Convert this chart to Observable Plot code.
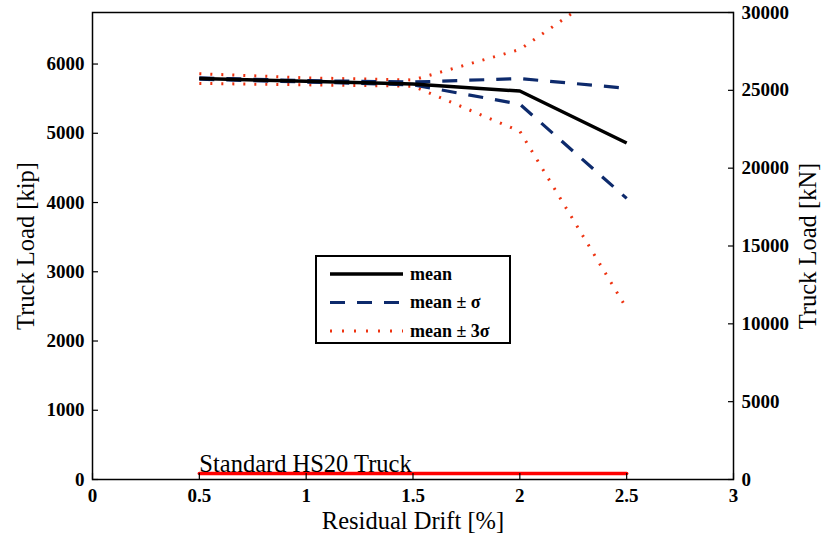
<!DOCTYPE html>
<html>
<head>
<meta charset="utf-8">
<script src="https://cdn.jsdelivr.net/npm/d3@7"></script>
<script src="https://cdn.jsdelivr.net/npm/@observablehq/plot@0.6"></script>
<style>
  html, body { margin: 0; padding: 0; background: #fff; }
  #wrap { position: relative; width: 821px; height: 540px; }
  #legend { position: absolute; left: 315px; top: 255px; }
</style>
</head>
<body>
<div id="wrap"></div>
<script>
// ---- data ----
const drift = [0.5, 1, 1.5, 2, 2.5];                 // Residual Drift [%]
const meanLoad       = [5790, 5750, 5710, 5610, 4860]; // kip
const plusSigmaLoad  = [5800, 5760, 5740, 5790, 5650];
const minusSigmaLoad = [5780, 5740, 5700, 5420, 4060];
const plus3SigmaLoad = [5860, 5800, 5770, 6210, 7280];
const minus3SigmaLoad= [5720, 5700, 5680, 5030, 2470];
const hs20Drift = [0.5, 2.5];
const hs20Load = 85;                                 // kip
const hs20Label = "Standard HS20 Truck";
const xTicks = [0, 0.5, 1, 1.5, 2, 2.5, 3];
const kipTicks = [0, 1000, 2000, 3000, 4000, 5000, 6000];
const kNTicks = [0, 5000, 10000, 15000, 20000, 25000, 30000];
const KIP_TO_KN = 4.4482216;
const legendLabels = ["mean", "mean \u00b1 \u03c3", "mean \u00b1 3\u03c3"];

// ---- styles ----
const FONT = "'Liberation Serif', 'Times New Roman', serif";
const styles = {
  mean:   {stroke: "#000000", strokeWidth: 3.5, dash: null},
  sigma:  {stroke: "#0d2a6c", strokeWidth: 3.2, dash: "15,12"},
  sigma3: {stroke: "#ee3311", strokeWidth: 3, dash: "2,9"}
};

const series = [
  {key: "sigma3", values: plus3SigmaLoad},
  {key: "sigma3", values: minus3SigmaLoad},
  {key: "sigma",  values: plusSigmaLoad},
  {key: "sigma",  values: minusSigmaLoad},
  {key: "mean",   values: meanLoad}
];

const lineMarks = series.map(s => {
  const st = styles[s.key];
  const rows = drift.map((d, i) => ({x: d, y: s.values[i]}));
  return Plot.line(rows, {
    x: "x", y: "y", stroke: st.stroke, strokeWidth: st.strokeWidth,
    strokeDasharray: st.dash, strokeLinecap: "butt", strokeLinejoin: "miter", clip: "frame"
  });
});

const hs20Rows = hs20Drift.map(d => ({x: d, y: hs20Load}));

const chart = Plot.plot({
  width: 821,
  height: 540,
  marginLeft: 92,
  marginRight: 88,
  marginTop: 12,
  marginBottom: 61,
  style: {fontFamily: FONT, fontSize: "18px", background: "white", color: "black"},
  x: {domain: [0, 3]},
  y: {domain: [0, 30000 / KIP_TO_KN]},
  marks: [
    Plot.line(hs20Rows, {x: "x", y: "y", stroke: "#ff0000", strokeWidth: 3.5}),
    Plot.text([hs20Label], {x: () => hs20Drift[0], y: () => hs20Load, text: d => d,
      textAnchor: "start", lineAnchor: "bottom", dy: -2, fontSize: 24.5, fontFamily: FONT, fill: "black"}),
    ...lineMarks,
    Plot.frame({stroke: "black", strokeWidth: 1.5}),
    Plot.axisX({ticks: xTicks, tickSize: -6, tickPadding: 15, tickFormat: d => String(d),
      fontWeight: "bold", fontSize: 19, label: null, strokeWidth: 1.2}),
    Plot.axisY({anchor: "left", ticks: kipTicks, tickSize: -6, tickPadding: 14, tickFormat: d => String(d),
      fontWeight: "bold", fontSize: 19, label: null, strokeWidth: 1.2}),
    Plot.axisY({anchor: "right", ticks: kNTicks.map(v => v / KIP_TO_KN), tickSize: -6, tickPadding: 14,
      tickFormat: d => String(Math.round(d * KIP_TO_KN)),
      fontWeight: "bold", fontSize: 19, label: null, strokeWidth: 1.2}),
    Plot.text(["Residual Drift [%]"], {frameAnchor: "bottom", dy: 42, lineAnchor: "middle",
      textAnchor: "middle", text: d => d, fontSize: 24.5, fontFamily: FONT}),
    Plot.text(["Truck Load [kip]"], {frameAnchor: "left", dx: -66, rotate: -90, lineAnchor: "middle",
      textAnchor: "middle", text: d => d, fontSize: 24.5, fontFamily: FONT}),
    Plot.text(["Truck Load [kN]"], {frameAnchor: "right", dx: 75, rotate: -90, lineAnchor: "middle",
      textAnchor: "middle", text: d => d, fontSize: 24.5, fontFamily: FONT})
  ]
});

const wrap = document.getElementById("wrap");
wrap.appendChild(chart);

// ---- legend ----
const legendKeys = ["mean", "sigma", "sigma3"];
const lg = d3.select(wrap).append("svg").attr("id", "legend")
  .attr("width", 197).attr("height", 90);
lg.append("rect").attr("x", 1).attr("y", 1).attr("width", 194).attr("height", 87)
  .attr("fill", "white").attr("stroke", "black").attr("stroke-width", 2);
legendKeys.forEach((k, i) => {
  const st = styles[k];
  const yy = 19 + i * 28.5;
  lg.append("line").attr("x1", 15).attr("x2", 88).attr("y1", yy).attr("y2", yy)
    .attr("stroke", st.stroke).attr("stroke-width", st.strokeWidth)
    .attr("stroke-dasharray", k === "sigma3" ? "2,10" : st.dash);
  lg.append("text").attr("x", 95).attr("y", yy).attr("dy", "0.32em")
    .attr("font-family", FONT).attr("font-size", 18).attr("font-weight", "bold")
    .text(legendLabels[i]);
});
</script>
</body>
</html>
